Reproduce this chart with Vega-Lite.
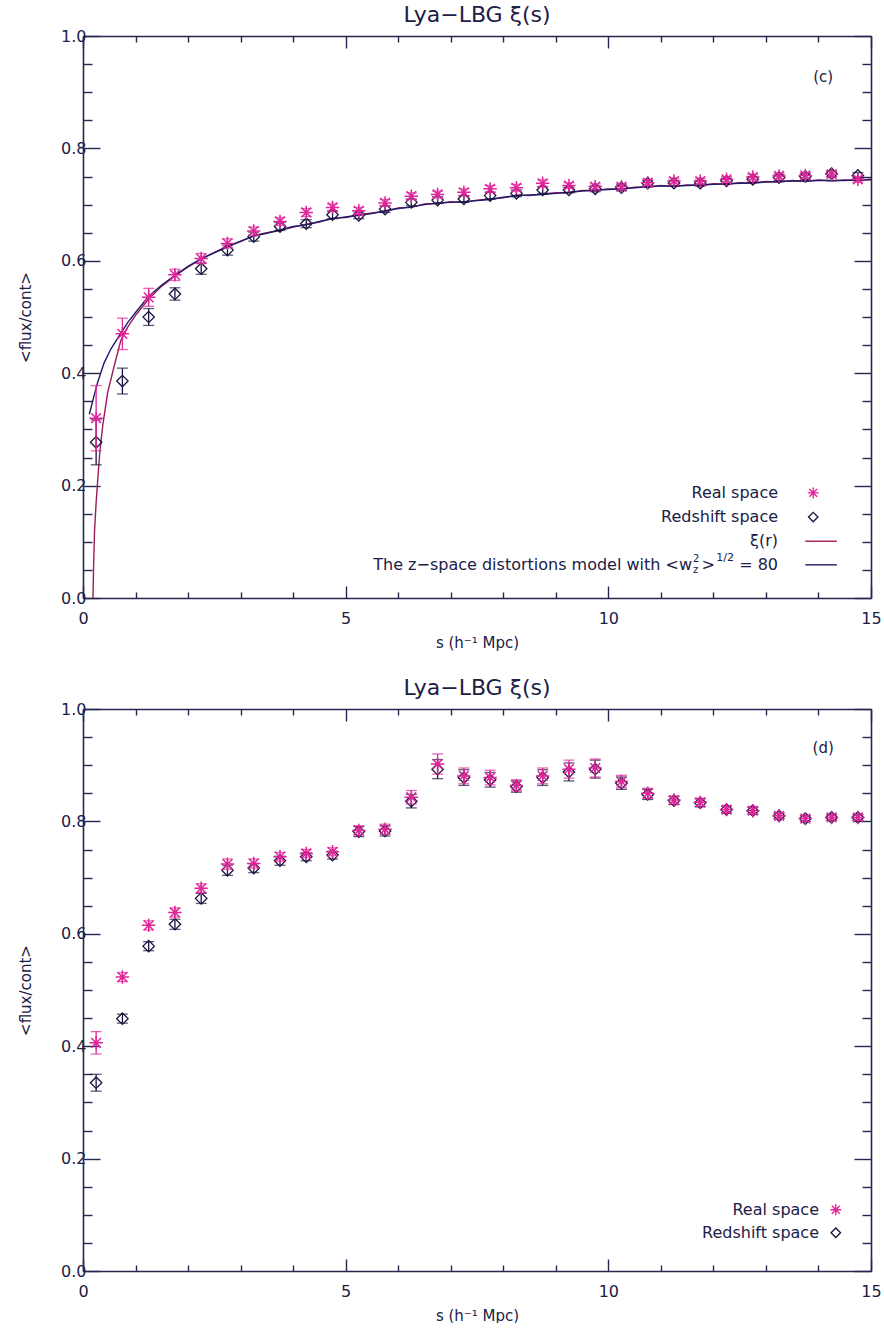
{
  "$schema": "https://vega.github.io/schema/vega-lite/v6.json",
  "background": "white",
  "padding": {"left": 18, "top": 4, "right": 0, "bottom": 0},
  "spacing": 27,
  "config": {
    "view": {"stroke": null},
    "font": "DejaVu Sans",
    "axis": {"grid": false, "domainColor": "#262650", "tickColor": "#262650", "labelColor": "#202045", "titleColor": "#202045", "labelFont": "DejaVu Sans", "titleFont": "DejaVu Sans", "labelFontSize": 16, "titleFontSize": 15, "titleFontWeight": "normal", "domainWidth": 1.6, "tickWidth": 1.4, "labelOverlap": false, "labelFlush": false},
    "title": {"font": "DejaVu Sans", "fontSize": 22, "fontWeight": "normal", "color": "#202045", "offset": 1},
    "text": {"font": "DejaVu Sans", "fontSize": 15, "color": "#202045"}
  },
  "datasets": {
    "topPts": [
      {"s": 0.25, "real": 0.320, "rlo": 0.262, "rhi": 0.378, "red": 0.277, "dlo": 0.237, "dhi": 0.317},
      {"s": 0.75, "real": 0.470, "rlo": 0.442, "rhi": 0.498, "red": 0.386, "dlo": 0.363, "dhi": 0.409},
      {"s": 1.25, "real": 0.535, "rlo": 0.519, "rhi": 0.551, "red": 0.500, "dlo": 0.485, "dhi": 0.515},
      {"s": 1.75, "real": 0.575, "rlo": 0.565, "rhi": 0.585, "red": 0.541, "dlo": 0.530, "dhi": 0.552},
      {"s": 2.25, "real": 0.604, "rlo": 0.595, "rhi": 0.613, "red": 0.586, "dlo": 0.576, "dhi": 0.596},
      {"s": 2.75, "real": 0.631, "rlo": 0.623, "rhi": 0.639, "red": 0.619, "dlo": 0.610, "dhi": 0.628},
      {"s": 3.25, "real": 0.653, "rlo": 0.646, "rhi": 0.660, "red": 0.643, "dlo": 0.635, "dhi": 0.651},
      {"s": 3.75, "real": 0.670, "rlo": 0.663, "rhi": 0.677, "red": 0.661, "dlo": 0.654, "dhi": 0.668},
      {"s": 4.25, "real": 0.686, "rlo": 0.679, "rhi": 0.693, "red": 0.666, "dlo": 0.659, "dhi": 0.673},
      {"s": 4.75, "real": 0.695, "rlo": 0.689, "rhi": 0.701, "red": 0.682, "dlo": 0.675, "dhi": 0.689},
      {"s": 5.25, "real": 0.689, "rlo": 0.683, "rhi": 0.695, "red": 0.681, "dlo": 0.675, "dhi": 0.687},
      {"s": 5.75, "real": 0.703, "rlo": 0.697, "rhi": 0.709, "red": 0.692, "dlo": 0.686, "dhi": 0.698},
      {"s": 6.25, "real": 0.715, "rlo": 0.709, "rhi": 0.721, "red": 0.704, "dlo": 0.698, "dhi": 0.710},
      {"s": 6.75, "real": 0.718, "rlo": 0.712, "rhi": 0.724, "red": 0.708, "dlo": 0.702, "dhi": 0.714},
      {"s": 7.25, "real": 0.722, "rlo": 0.716, "rhi": 0.728, "red": 0.710, "dlo": 0.704, "dhi": 0.716},
      {"s": 7.75, "real": 0.728, "rlo": 0.722, "rhi": 0.734, "red": 0.716, "dlo": 0.710, "dhi": 0.722},
      {"s": 8.25, "real": 0.730, "rlo": 0.724, "rhi": 0.736, "red": 0.720, "dlo": 0.714, "dhi": 0.726},
      {"s": 8.75, "real": 0.738, "rlo": 0.732, "rhi": 0.744, "red": 0.726, "dlo": 0.720, "dhi": 0.732},
      {"s": 9.25, "real": 0.734, "rlo": 0.729, "rhi": 0.739, "red": 0.726, "dlo": 0.721, "dhi": 0.731},
      {"s": 9.75, "real": 0.732, "rlo": 0.727, "rhi": 0.737, "red": 0.728, "dlo": 0.723, "dhi": 0.733},
      {"s": 10.25, "real": 0.732, "rlo": 0.727, "rhi": 0.737, "red": 0.730, "dlo": 0.725, "dhi": 0.735},
      {"s": 10.75, "real": 0.739, "rlo": 0.734, "rhi": 0.744, "red": 0.738, "dlo": 0.733, "dhi": 0.743},
      {"s": 11.25, "real": 0.742, "rlo": 0.737, "rhi": 0.747, "red": 0.738, "dlo": 0.733, "dhi": 0.743},
      {"s": 11.75, "real": 0.742, "rlo": 0.737, "rhi": 0.747, "red": 0.738, "dlo": 0.733, "dhi": 0.743},
      {"s": 12.25, "real": 0.745, "rlo": 0.740, "rhi": 0.750, "red": 0.742, "dlo": 0.737, "dhi": 0.747},
      {"s": 12.75, "real": 0.749, "rlo": 0.744, "rhi": 0.754, "red": 0.745, "dlo": 0.740, "dhi": 0.750},
      {"s": 13.25, "real": 0.751, "rlo": 0.746, "rhi": 0.756, "red": 0.748, "dlo": 0.743, "dhi": 0.753},
      {"s": 13.75, "real": 0.752, "rlo": 0.747, "rhi": 0.757, "red": 0.750, "dlo": 0.745, "dhi": 0.755},
      {"s": 14.25, "real": 0.754, "rlo": 0.749, "rhi": 0.759, "red": 0.755, "dlo": 0.750, "dhi": 0.760},
      {"s": 14.75, "real": 0.745, "rlo": 0.740, "rhi": 0.750, "red": 0.752, "dlo": 0.747, "dhi": 0.757}
    ],
    "botPts": [
      {"s": 0.25, "real": 0.406, "rlo": 0.386, "rhi": 0.426, "red": 0.335, "dlo": 0.320, "dhi": 0.350},
      {"s": 0.75, "real": 0.523, "rlo": 0.515, "rhi": 0.531, "red": 0.449, "dlo": 0.441, "dhi": 0.457},
      {"s": 1.25, "real": 0.615, "rlo": 0.607, "rhi": 0.623, "red": 0.578, "dlo": 0.570, "dhi": 0.586},
      {"s": 1.75, "real": 0.638, "rlo": 0.630, "rhi": 0.646, "red": 0.617, "dlo": 0.608, "dhi": 0.626},
      {"s": 2.25, "real": 0.681, "rlo": 0.673, "rhi": 0.689, "red": 0.663, "dlo": 0.654, "dhi": 0.672},
      {"s": 2.75, "real": 0.724, "rlo": 0.715, "rhi": 0.733, "red": 0.713, "dlo": 0.704, "dhi": 0.722},
      {"s": 3.25, "real": 0.725, "rlo": 0.717, "rhi": 0.733, "red": 0.717, "dlo": 0.709, "dhi": 0.725},
      {"s": 3.75, "real": 0.737, "rlo": 0.729, "rhi": 0.745, "red": 0.730, "dlo": 0.722, "dhi": 0.738},
      {"s": 4.25, "real": 0.743, "rlo": 0.736, "rhi": 0.750, "red": 0.737, "dlo": 0.730, "dhi": 0.744},
      {"s": 4.75, "real": 0.746, "rlo": 0.739, "rhi": 0.753, "red": 0.740, "dlo": 0.733, "dhi": 0.747},
      {"s": 5.25, "real": 0.784, "rlo": 0.776, "rhi": 0.792, "red": 0.782, "dlo": 0.773, "dhi": 0.791},
      {"s": 5.75, "real": 0.786, "rlo": 0.777, "rhi": 0.795, "red": 0.783, "dlo": 0.774, "dhi": 0.792},
      {"s": 6.25, "real": 0.843, "rlo": 0.831, "rhi": 0.855, "red": 0.836, "dlo": 0.824, "dhi": 0.848},
      {"s": 6.75, "real": 0.902, "rlo": 0.884, "rhi": 0.920, "red": 0.893, "dlo": 0.876, "dhi": 0.910},
      {"s": 7.25, "real": 0.881, "rlo": 0.867, "rhi": 0.895, "red": 0.878, "dlo": 0.864, "dhi": 0.892},
      {"s": 7.75, "real": 0.878, "rlo": 0.865, "rhi": 0.891, "red": 0.874, "dlo": 0.861, "dhi": 0.887},
      {"s": 8.25, "real": 0.864, "rlo": 0.854, "rhi": 0.874, "red": 0.862, "dlo": 0.852, "dhi": 0.872},
      {"s": 8.75, "real": 0.881, "rlo": 0.867, "rhi": 0.895, "red": 0.878, "dlo": 0.864, "dhi": 0.892},
      {"s": 9.25, "real": 0.893, "rlo": 0.877, "rhi": 0.909, "red": 0.888, "dlo": 0.872, "dhi": 0.904},
      {"s": 9.75, "real": 0.895, "rlo": 0.879, "rhi": 0.911, "red": 0.893, "dlo": 0.877, "dhi": 0.909},
      {"s": 10.25, "real": 0.871, "rlo": 0.860, "rhi": 0.882, "red": 0.868, "dlo": 0.857, "dhi": 0.879},
      {"s": 10.75, "real": 0.850, "rlo": 0.841, "rhi": 0.859, "red": 0.848, "dlo": 0.839, "dhi": 0.857},
      {"s": 11.25, "real": 0.838, "rlo": 0.831, "rhi": 0.845, "red": 0.837, "dlo": 0.830, "dhi": 0.844},
      {"s": 11.75, "real": 0.834, "rlo": 0.827, "rhi": 0.841, "red": 0.833, "dlo": 0.826, "dhi": 0.840},
      {"s": 12.25, "real": 0.821, "rlo": 0.815, "rhi": 0.827, "red": 0.821, "dlo": 0.815, "dhi": 0.827},
      {"s": 12.75, "real": 0.819, "rlo": 0.813, "rhi": 0.825, "red": 0.819, "dlo": 0.813, "dhi": 0.825},
      {"s": 13.25, "real": 0.810, "rlo": 0.805, "rhi": 0.815, "red": 0.810, "dlo": 0.805, "dhi": 0.815},
      {"s": 13.75, "real": 0.805, "rlo": 0.800, "rhi": 0.810, "red": 0.805, "dlo": 0.800, "dhi": 0.810},
      {"s": 14.25, "real": 0.807, "rlo": 0.802, "rhi": 0.812, "red": 0.807, "dlo": 0.802, "dhi": 0.812},
      {"s": 14.75, "real": 0.807, "rlo": 0.802, "rhi": 0.812, "red": 0.807, "dlo": 0.802, "dhi": 0.812}
    ],
    "xiLine": [
      {"s": 0.19, "v": 0.0}, {"s": 0.2, "v": 0.05}, {"s": 0.22, "v": 0.12}, {"s": 0.25, "v": 0.17}, {"s": 0.28, "v": 0.21}, {"s": 0.32, "v": 0.26}, {"s": 0.38, "v": 0.31}, {"s": 0.47, "v": 0.366}, {"s": 0.6, "v": 0.415}, {"s": 0.72, "v": 0.458}, {"s": 0.85, "v": 0.482}, {"s": 1.0, "v": 0.503}, {"s": 1.25, "v": 0.532}, {"s": 1.5, "v": 0.555}, {"s": 1.75, "v": 0.573}, {"s": 2.0, "v": 0.589}, {"s": 2.25, "v": 0.603}, {"s": 2.5, "v": 0.615}, {"s": 2.75, "v": 0.626}, {"s": 3.0, "v": 0.634}, {"s": 3.25, "v": 0.645}, {"s": 3.5, "v": 0.650}, {"s": 3.75, "v": 0.654}, {"s": 4.0, "v": 0.660}, {"s": 4.25, "v": 0.665}, {"s": 4.5, "v": 0.669}, {"s": 4.75, "v": 0.676}, {"s": 5.0, "v": 0.677}, {"s": 5.25, "v": 0.682}, {"s": 5.5, "v": 0.685}, {"s": 5.75, "v": 0.688}, {"s": 6.0, "v": 0.694}, {"s": 6.25, "v": 0.695}, {"s": 6.5, "v": 0.701}, {"s": 6.75, "v": 0.702}, {"s": 7.0, "v": 0.705}, {"s": 7.25, "v": 0.704}, {"s": 7.5, "v": 0.708}, {"s": 7.75, "v": 0.710}, {"s": 8.0, "v": 0.712}, {"s": 8.25, "v": 0.717}, {"s": 8.5, "v": 0.716}, {"s": 8.75, "v": 0.719}, {"s": 9.0, "v": 0.721}, {"s": 9.25, "v": 0.721}, {"s": 9.5, "v": 0.725}, {"s": 9.75, "v": 0.725}, {"s": 10.0, "v": 0.728}, {"s": 10.25, "v": 0.727}, {"s": 10.5, "v": 0.731}, {"s": 10.75, "v": 0.731}, {"s": 11.0, "v": 0.734}, {"s": 11.25, "v": 0.732}, {"s": 11.5, "v": 0.735}, {"s": 11.75, "v": 0.734}, {"s": 12.0, "v": 0.737}, {"s": 12.25, "v": 0.736}, {"s": 12.5, "v": 0.739}, {"s": 12.75, "v": 0.738}, {"s": 13.0, "v": 0.741}, {"s": 13.25, "v": 0.740}, {"s": 13.5, "v": 0.743}, {"s": 13.75, "v": 0.741}, {"s": 14.0, "v": 0.744}, {"s": 14.25, "v": 0.742}, {"s": 14.5, "v": 0.744}, {"s": 14.75, "v": 0.743}, {"s": 15.0, "v": 0.745}
    ],
    "zLine": [
      {"s": 0.12, "v": 0.327}, {"s": 0.2, "v": 0.356}, {"s": 0.28, "v": 0.384}, {"s": 0.4, "v": 0.418}, {"s": 0.53, "v": 0.443}, {"s": 0.7, "v": 0.468}, {"s": 0.85, "v": 0.49}, {"s": 1.0, "v": 0.508}, {"s": 1.25, "v": 0.537}, {"s": 1.5, "v": 0.557}, {"s": 1.75, "v": 0.574}, {"s": 2.0, "v": 0.59}, {"s": 2.25, "v": 0.604}, {"s": 2.5, "v": 0.614}, {"s": 2.75, "v": 0.625}, {"s": 3.0, "v": 0.635}, {"s": 3.25, "v": 0.644}, {"s": 3.5, "v": 0.649}, {"s": 3.75, "v": 0.655}, {"s": 4.0, "v": 0.661}, {"s": 4.25, "v": 0.664}, {"s": 4.5, "v": 0.670}, {"s": 4.75, "v": 0.675}, {"s": 5.0, "v": 0.678}, {"s": 5.25, "v": 0.681}, {"s": 5.5, "v": 0.684}, {"s": 5.75, "v": 0.689}, {"s": 6.0, "v": 0.693}, {"s": 6.25, "v": 0.696}, {"s": 6.5, "v": 0.700}, {"s": 6.75, "v": 0.703}, {"s": 7.0, "v": 0.704}, {"s": 7.25, "v": 0.705}, {"s": 7.5, "v": 0.707}, {"s": 7.75, "v": 0.709}, {"s": 8.0, "v": 0.713}, {"s": 8.25, "v": 0.716}, {"s": 8.5, "v": 0.717}, {"s": 8.75, "v": 0.718}, {"s": 9.0, "v": 0.720}, {"s": 9.25, "v": 0.722}, {"s": 9.5, "v": 0.724}, {"s": 9.75, "v": 0.726}, {"s": 10.0, "v": 0.727}, {"s": 10.25, "v": 0.728}, {"s": 10.5, "v": 0.730}, {"s": 10.75, "v": 0.732}, {"s": 11.0, "v": 0.733}, {"s": 11.25, "v": 0.733}, {"s": 11.5, "v": 0.734}, {"s": 11.75, "v": 0.735}, {"s": 12.0, "v": 0.736}, {"s": 12.25, "v": 0.737}, {"s": 12.5, "v": 0.738}, {"s": 12.75, "v": 0.739}, {"s": 13.0, "v": 0.740}, {"s": 13.25, "v": 0.741}, {"s": 13.5, "v": 0.742}, {"s": 13.75, "v": 0.742}, {"s": 14.0, "v": 0.743}, {"s": 14.25, "v": 0.743}, {"s": 14.5, "v": 0.743}, {"s": 14.75, "v": 0.744}, {"s": 15.0, "v": 0.744}
    ],
    "one": [{"k": 1}]
  },
  "vconcat": [
    {
      "width": 788,
      "height": 562,
      "title": {"text": "Lya−LBG ξ(s)"},
      "resolve": {"axis": {"x": "independent", "y": "independent"}},
      "layer": [
        {
          "data": {"name": "xiLine"},
          "mark": {"type": "line", "color": "#9c1a5a", "strokeWidth": 1.4},
          "encoding": {
            "x": {"field": "s", "type": "quantitative", "scale": {"domain": [0, 15], "nice": false, "zero": false},
              "axis": {"orient": "bottom", "title": "s (h⁻¹ Mpc)", "values": [0,1,2,3,4,5,6,7,8,9,10,11,12,13,14,15], "tickSize": {"condition": {"test": "datum.value % 5 === 0", "value": -12}, "value": -6}, "labelExpr": "datum.value % 5 === 0 ? datum.label : ''", "labelPadding": 24, "titlePadding": 3}},
            "y": {"field": "v", "type": "quantitative", "scale": {"domain": [0, 1], "nice": false, "zero": false},
              "axis": {"orient": "left", "title": "<flux/cont>", "values": [0,0.05,0.1,0.15,0.2,0.25,0.3,0.35,0.4,0.45,0.5,0.55,0.6,0.65,0.7,0.75,0.8,0.85,0.9,0.95,1.0], "tickSize": {"condition": {"test": "abs(datum.value*5 - round(datum.value*5)) < 0.001", "value": -17}, "value": -9}, "labelExpr": "abs(datum.value*5 - round(datum.value*5)) < 0.001 ? format(datum.value, '.1f') : ''", "labelPadding": 14, "titlePadding": 27}}
          }
        },
        {
          "data": {"name": "zLine"},
          "mark": {"type": "line", "color": "#1c1c6a", "strokeWidth": 1.4},
          "encoding": {
            "x": {"field": "s", "type": "quantitative", "scale": {"domain": [0, 15], "nice": false, "zero": false},
              "axis": {"orient": "top", "title": null, "labels": false, "values": [0,1,2,3,4,5,6,7,8,9,10,11,12,13,14,15], "tickSize": {"condition": {"test": "datum.value % 5 === 0", "value": -12}, "value": -6}}},
            "y": {"field": "v", "type": "quantitative", "scale": {"domain": [0, 1], "nice": false, "zero": false},
              "axis": {"orient": "right", "title": null, "labels": false, "values": [0,0.05,0.1,0.15,0.2,0.25,0.3,0.35,0.4,0.45,0.5,0.55,0.6,0.65,0.7,0.75,0.8,0.85,0.9,0.95,1.0], "tickSize": {"condition": {"test": "abs(datum.value*5 - round(datum.value*5)) < 0.001", "value": -17}, "value": -9}}}
          }
        },
        {
          "data": {"name": "topPts"},
          "mark": {"type": "rule", "color": "#15153f", "strokeWidth": 1.3},
          "encoding": {"x": {"field": "s", "type": "quantitative", "axis": null}, "y": {"field": "dlo", "type": "quantitative", "axis": null}, "y2": {"field": "dhi"}}
        },
        {
          "data": {"name": "topPts"},
          "mark": {"type": "tick", "orient": "horizontal", "color": "#15153f", "size": 11, "thickness": 1.3},
          "encoding": {"x": {"field": "s", "type": "quantitative", "axis": null}, "y": {"field": "dlo", "type": "quantitative", "axis": null}}
        },
        {
          "data": {"name": "topPts"},
          "mark": {"type": "tick", "orient": "horizontal", "color": "#15153f", "size": 11, "thickness": 1.3},
          "encoding": {"x": {"field": "s", "type": "quantitative", "axis": null}, "y": {"field": "dhi", "type": "quantitative", "axis": null}}
        },
        {
          "data": {"name": "topPts"},
          "mark": {"type": "point", "shape": "diamond", "filled": false, "color": "#15153f", "size": 130, "strokeWidth": 1.3, "opacity": 1},
          "encoding": {"x": {"field": "s", "type": "quantitative", "axis": null}, "y": {"field": "red", "type": "quantitative", "axis": null}}
        },
        {
          "data": {"name": "topPts"},
          "mark": {"type": "rule", "color": "#e0259a", "strokeWidth": 1.3},
          "encoding": {"x": {"field": "s", "type": "quantitative", "axis": null}, "y": {"field": "rlo", "type": "quantitative", "axis": null}, "y2": {"field": "rhi"}}
        },
        {
          "data": {"name": "topPts"},
          "mark": {"type": "tick", "orient": "horizontal", "color": "#e0259a", "size": 11, "thickness": 1.3},
          "encoding": {"x": {"field": "s", "type": "quantitative", "axis": null}, "y": {"field": "rlo", "type": "quantitative", "axis": null}}
        },
        {
          "data": {"name": "topPts"},
          "mark": {"type": "tick", "orient": "horizontal", "color": "#e0259a", "size": 11, "thickness": 1.3},
          "encoding": {"x": {"field": "s", "type": "quantitative", "axis": null}, "y": {"field": "rhi", "type": "quantitative", "axis": null}}
        },
        {
          "data": {"name": "topPts"},
          "mark": {"type": "point", "shape": "M-1,0L1,0M0,-1L0,1M-0.72,-0.72L0.72,0.72M-0.72,0.72L0.72,-0.72", "filled": false, "color": "#e0259a", "size": 180, "strokeWidth": 1.5, "opacity": 1},
          "encoding": {"x": {"field": "s", "type": "quantitative", "axis": null}, "y": {"field": "real", "type": "quantitative", "axis": null}}
        },
        {
          "data": {"name": "one"},
          "mark": {"type": "text", "align": "center", "baseline": "middle", "fontSize": 15},
          "encoding": {"x": {"datum": 14.09, "type": "quantitative", "axis": null}, "y": {"datum": 0.927, "type": "quantitative", "axis": null}, "text": {"value": "(c)"}}
        },
        {
          "data": {"name": "one"},
          "mark": {"type": "text", "align": "right", "baseline": "middle", "fontSize": 16},
          "encoding": {"x": {"datum": 13.23, "type": "quantitative", "axis": null}, "y": {"datum": 0.187, "type": "quantitative", "axis": null}, "text": {"value": "Real space"}}
        },
        {
          "data": {"name": "one"},
          "mark": {"type": "text", "align": "right", "baseline": "middle", "fontSize": 16},
          "encoding": {"x": {"datum": 13.23, "type": "quantitative", "axis": null}, "y": {"datum": 0.144, "type": "quantitative", "axis": null}, "text": {"value": "Redshift space"}}
        },
        {
          "data": {"name": "one"},
          "mark": {"type": "text", "align": "right", "baseline": "middle", "fontSize": 16},
          "encoding": {"x": {"datum": 13.23, "type": "quantitative", "axis": null}, "y": {"datum": 0.101, "type": "quantitative", "axis": null}, "text": {"value": "ξ(r)"}}
        },
        {
          "data": {"name": "one"},
          "mark": {"type": "text", "align": "right", "baseline": "middle", "fontSize": 16},
          "encoding": {"x": {"datum": 13.23, "type": "quantitative", "axis": null}, "y": {"datum": 0.059, "type": "quantitative", "axis": null}, "text": {"value": " = 80"}}
        },
        {
          "data": {"name": "one"},
          "mark": {"type": "text", "align": "right", "baseline": "middle", "fontSize": 11, "dx": -44, "dy": -7},
          "encoding": {"x": {"datum": 13.23, "type": "quantitative", "axis": null}, "y": {"datum": 0.059, "type": "quantitative", "axis": null}, "text": {"value": "1/2"}}
        },
        {
          "data": {"name": "one"},
          "mark": {"type": "text", "align": "right", "baseline": "middle", "fontSize": 16, "dx": -63},
          "encoding": {"x": {"datum": 13.23, "type": "quantitative", "axis": null}, "y": {"datum": 0.059, "type": "quantitative", "axis": null}, "text": {"value": ">"}}
        },
        {
          "data": {"name": "one"},
          "mark": {"type": "text", "align": "left", "baseline": "middle", "fontSize": 10, "dx": -85, "dy": -6},
          "encoding": {"x": {"datum": 13.23, "type": "quantitative", "axis": null}, "y": {"datum": 0.059, "type": "quantitative", "axis": null}, "text": {"value": "2"}}
        },
        {
          "data": {"name": "one"},
          "mark": {"type": "text", "align": "left", "baseline": "middle", "fontSize": 10, "dx": -85, "dy": 5},
          "encoding": {"x": {"datum": 13.23, "type": "quantitative", "axis": null}, "y": {"datum": 0.059, "type": "quantitative", "axis": null}, "text": {"value": "z"}}
        },
        {
          "data": {"name": "one"},
          "mark": {"type": "text", "align": "right", "baseline": "middle", "fontSize": 16, "dx": -86},
          "encoding": {"x": {"datum": 13.23, "type": "quantitative", "axis": null}, "y": {"datum": 0.059, "type": "quantitative", "axis": null}, "text": {"value": "The z−space distortions model with <w"}}
        },
        {
          "data": {"name": "one"},
          "mark": {"type": "point", "shape": "M-1,0L1,0M0,-1L0,1M-0.72,-0.72L0.72,0.72M-0.72,0.72L0.72,-0.72", "filled": false, "color": "#e0259a", "size": 120, "strokeWidth": 1.4, "opacity": 1},
          "encoding": {"x": {"datum": 13.9, "type": "quantitative", "axis": null}, "y": {"datum": 0.187, "type": "quantitative", "axis": null}}
        },
        {
          "data": {"name": "one"},
          "mark": {"type": "point", "shape": "diamond", "filled": false, "color": "#15153f", "size": 90, "strokeWidth": 1.3, "opacity": 1},
          "encoding": {"x": {"datum": 13.9, "type": "quantitative", "axis": null}, "y": {"datum": 0.144, "type": "quantitative", "axis": null}}
        },
        {
          "data": {"name": "one"},
          "mark": {"type": "rule", "color": "#9c1a5a", "strokeWidth": 1.4},
          "encoding": {"x": {"datum": 13.75, "type": "quantitative", "axis": null}, "x2": {"datum": 14.35}, "y": {"datum": 0.101, "type": "quantitative", "axis": null}}
        },
        {
          "data": {"name": "one"},
          "mark": {"type": "rule", "color": "#1c1c6a", "strokeWidth": 1.4},
          "encoding": {"x": {"datum": 13.75, "type": "quantitative", "axis": null}, "x2": {"datum": 14.35}, "y": {"datum": 0.059, "type": "quantitative", "axis": null}}
        }
      ]
    },
    {
      "width": 788,
      "height": 562,
      "title": {"text": "Lya−LBG ξ(s)"},
      "resolve": {"axis": {"x": "independent", "y": "independent"}},
      "layer": [
        {
          "data": {"name": "botPts"},
          "mark": {"type": "rule", "color": "#15153f", "strokeWidth": 1.3},
          "encoding": {
            "x": {"field": "s", "type": "quantitative", "scale": {"domain": [0, 15], "nice": false, "zero": false},
              "axis": {"orient": "bottom", "title": "s (h⁻¹ Mpc)", "values": [0,1,2,3,4,5,6,7,8,9,10,11,12,13,14,15], "tickSize": {"condition": {"test": "datum.value % 5 === 0", "value": -12}, "value": -6}, "labelExpr": "datum.value % 5 === 0 ? datum.label : ''", "labelPadding": 24, "titlePadding": 3}},
            "y": {"field": "dlo", "type": "quantitative", "scale": {"domain": [0, 1], "nice": false, "zero": false},
              "axis": {"orient": "left", "title": "<flux/cont>", "values": [0,0.05,0.1,0.15,0.2,0.25,0.3,0.35,0.4,0.45,0.5,0.55,0.6,0.65,0.7,0.75,0.8,0.85,0.9,0.95,1.0], "tickSize": {"condition": {"test": "abs(datum.value*5 - round(datum.value*5)) < 0.001", "value": -17}, "value": -9}, "labelExpr": "abs(datum.value*5 - round(datum.value*5)) < 0.001 ? format(datum.value, '.1f') : ''", "labelPadding": 14, "titlePadding": 27}},
            "y2": {"field": "dhi"}
          }
        },
        {
          "data": {"name": "botPts"},
          "mark": {"type": "tick", "orient": "horizontal", "color": "#15153f", "size": 11, "thickness": 1.3},
          "encoding": {
            "x": {"field": "s", "type": "quantitative", "scale": {"domain": [0, 15], "nice": false, "zero": false},
              "axis": {"orient": "top", "title": null, "labels": false, "values": [0,1,2,3,4,5,6,7,8,9,10,11,12,13,14,15], "tickSize": {"condition": {"test": "datum.value % 5 === 0", "value": -12}, "value": -6}}},
            "y": {"field": "dlo", "type": "quantitative", "scale": {"domain": [0, 1], "nice": false, "zero": false},
              "axis": {"orient": "right", "title": null, "labels": false, "values": [0,0.05,0.1,0.15,0.2,0.25,0.3,0.35,0.4,0.45,0.5,0.55,0.6,0.65,0.7,0.75,0.8,0.85,0.9,0.95,1.0], "tickSize": {"condition": {"test": "abs(datum.value*5 - round(datum.value*5)) < 0.001", "value": -17}, "value": -9}}}
          }
        },
        {
          "data": {"name": "botPts"},
          "mark": {"type": "tick", "orient": "horizontal", "color": "#15153f", "size": 11, "thickness": 1.3},
          "encoding": {"x": {"field": "s", "type": "quantitative", "axis": null}, "y": {"field": "dhi", "type": "quantitative", "axis": null}}
        },
        {
          "data": {"name": "botPts"},
          "mark": {"type": "point", "shape": "diamond", "filled": false, "color": "#15153f", "size": 130, "strokeWidth": 1.3, "opacity": 1},
          "encoding": {"x": {"field": "s", "type": "quantitative", "axis": null}, "y": {"field": "red", "type": "quantitative", "axis": null}}
        },
        {
          "data": {"name": "botPts"},
          "mark": {"type": "rule", "color": "#e0259a", "strokeWidth": 1.3},
          "encoding": {"x": {"field": "s", "type": "quantitative", "axis": null}, "y": {"field": "rlo", "type": "quantitative", "axis": null}, "y2": {"field": "rhi"}}
        },
        {
          "data": {"name": "botPts"},
          "mark": {"type": "tick", "orient": "horizontal", "color": "#e0259a", "size": 11, "thickness": 1.3},
          "encoding": {"x": {"field": "s", "type": "quantitative", "axis": null}, "y": {"field": "rlo", "type": "quantitative", "axis": null}}
        },
        {
          "data": {"name": "botPts"},
          "mark": {"type": "tick", "orient": "horizontal", "color": "#e0259a", "size": 11, "thickness": 1.3},
          "encoding": {"x": {"field": "s", "type": "quantitative", "axis": null}, "y": {"field": "rhi", "type": "quantitative", "axis": null}}
        },
        {
          "data": {"name": "botPts"},
          "mark": {"type": "point", "shape": "M-1,0L1,0M0,-1L0,1M-0.72,-0.72L0.72,0.72M-0.72,0.72L0.72,-0.72", "filled": false, "color": "#e0259a", "size": 180, "strokeWidth": 1.5, "opacity": 1},
          "encoding": {"x": {"field": "s", "type": "quantitative", "axis": null}, "y": {"field": "real", "type": "quantitative", "axis": null}}
        },
        {
          "data": {"name": "one"},
          "mark": {"type": "text", "align": "center", "baseline": "middle", "fontSize": 15},
          "encoding": {"x": {"datum": 14.09, "type": "quantitative", "axis": null}, "y": {"datum": 0.93, "type": "quantitative", "axis": null}, "text": {"value": "(d)"}}
        },
        {
          "data": {"name": "one"},
          "mark": {"type": "text", "align": "right", "baseline": "middle", "fontSize": 16},
          "encoding": {"x": {"datum": 14.01, "type": "quantitative", "axis": null}, "y": {"datum": 0.109, "type": "quantitative", "axis": null}, "text": {"value": "Real space"}}
        },
        {
          "data": {"name": "one"},
          "mark": {"type": "text", "align": "right", "baseline": "middle", "fontSize": 16},
          "encoding": {"x": {"datum": 14.01, "type": "quantitative", "axis": null}, "y": {"datum": 0.068, "type": "quantitative", "axis": null}, "text": {"value": "Redshift space"}}
        },
        {
          "data": {"name": "one"},
          "mark": {"type": "point", "shape": "M-1,0L1,0M0,-1L0,1M-0.72,-0.72L0.72,0.72M-0.72,0.72L0.72,-0.72", "filled": false, "color": "#e0259a", "size": 120, "strokeWidth": 1.4, "opacity": 1},
          "encoding": {"x": {"datum": 14.33, "type": "quantitative", "axis": null}, "y": {"datum": 0.109, "type": "quantitative", "axis": null}}
        },
        {
          "data": {"name": "one"},
          "mark": {"type": "point", "shape": "diamond", "filled": false, "color": "#15153f", "size": 90, "strokeWidth": 1.3, "opacity": 1},
          "encoding": {"x": {"datum": 14.33, "type": "quantitative", "axis": null}, "y": {"datum": 0.068, "type": "quantitative", "axis": null}}
        }
      ]
    }
  ]
}
